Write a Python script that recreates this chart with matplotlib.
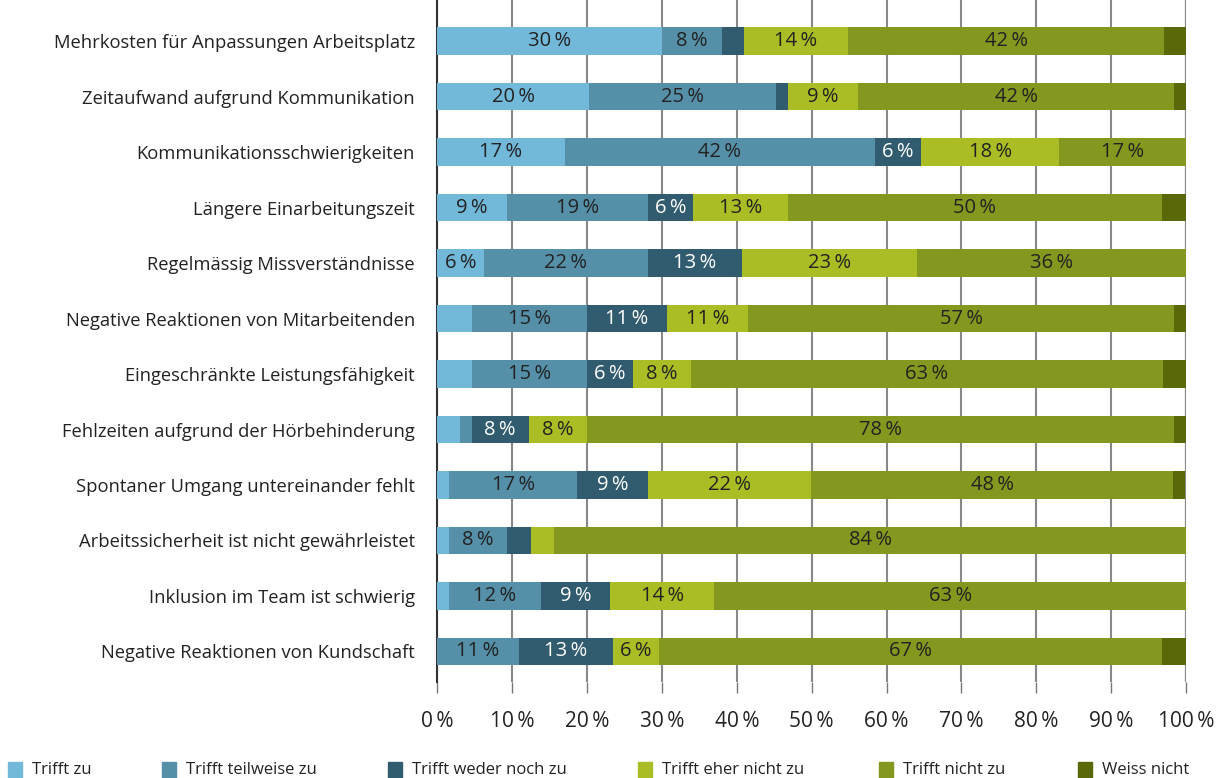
import numpy as np
import matplotlib.pyplot as plt
from matplotlib.patches import Rectangle

plt.rcParams['font.family'] = ['Open Sans', 'DejaVu Sans']

# categories (top to bottom)
categories = [
    'Mehrkosten für Anpassungen Arbeitsplatz',
    'Zeitaufwand aufgrund Kommunikation',
    'Kommunikationsschwierigkeiten',
    'Längere Einarbeitungszeit',
    'Regelmässig Missverständnisse',
    'Negative Reaktionen von Mitarbeitenden',
    'Eingeschränkte Leistungsfähigkeit',
    'Fehlzeiten aufgrund der Hörbehinderung',
    'Spontaner Umgang untereinander fehlt',
    'Arbeitssicherheit ist nicht gewährleistet',
    'Inklusion im Team ist schwierig',
    'Negative Reaktionen von Kundschaft',
]

series_names = ['Trifft zu', 'Trifft teilweise zu', 'Trifft weder noch zu',
                'Trifft eher nicht zu', 'Trifft nicht zu', 'Weiss nicht']

trifft_zu = [30, 20.3, 17, 9.3, 6.2, 4.6, 4.6, 3.0, 1.6, 1.6, 1.6, 0]
teilweise = [8, 24.9, 41.5, 18.8, 21.9, 15.4, 15.4, 1.6, 17.1, 7.7, 12.2, 10.9]
weder_noch = [2.9, 1.6, 6.1, 6.1, 12.6, 10.7, 6.1, 7.6, 9.4, 3.2, 9.3, 12.6]
eher_nicht = [14, 9.4, 18.5, 12.6, 23.4, 10.8, 7.8, 7.8, 21.8, 3.1, 13.9, 6.1]
nicht_zu = [42.2, 42.2, 16.9, 50, 35.9, 56.9, 63, 78.4, 48.4, 84.4, 63, 67.2]
weiss_nicht = [3.2, 1.6, 0, 3.2, 0, 1.6, 3.1, 1.6, 1.6, 0, 0, 3.2]

colors = ['#72b8d9', '#5590a8', '#315b6e', '#aabd25', '#84971f', '#5a6808']
text_colors = ['#222222', '#222222', 'white', '#222222', '#222222', 'white']

xticks = [0, 10, 20, 30, 40, 50, 60, 70, 80, 90, 100]

data = np.array([trifft_zu, teilweise, weder_noch, eher_nicht, nicht_zu, weiss_nicht])
y = np.arange(len(categories))

fig = plt.figure(figsize=(12.3, 7.78), dpi=100)
ax = fig.add_axes([437.3 / 1230, 1 - 682 / 778, (1186 - 437.3) / 1230, 682 / 778])

left = np.zeros(len(categories))
for k, name in enumerate(series_names):
    vals = data[k]
    ax.barh(y, vals, left=left, height=0.5, color=colors[k], zorder=3, label=name)
    for i, v in enumerate(vals):
        if v >= 5.5:
            ax.text(left[i] + v / 2, y[i], '%d\u2009%%' % round(v),
                    ha='center', va='center', fontsize=14.5,
                    color=text_colors[k], zorder=4)
    left = left + vals

ax.set_xlim(0, 100)
ax.set_ylim(11.55, -0.74)
ax.set_yticks(y)
ax.set_yticklabels(categories, fontsize=13.2, color='#222222')
ax.set_xticks(xticks)
ax.set_xticklabels(['%d\u2009%%' % t for t in xticks], fontsize=15, color='#222222')
ax.tick_params(axis='y', length=0, pad=16)
ax.tick_params(axis='x', length=8, width=1, color='#777777', pad=13)

ax.grid(axis='x', color='#888888', linewidth=1.5, zorder=0)
for s in ['top', 'bottom', 'right']:
    ax.spines[s].set_visible(False)
ax.spines['left'].set_color('#333333')
ax.spines['left'].set_linewidth(1.5)
ax.axvline(100, color='#555555', linewidth=1.5, zorder=1)

# legend along the bottom edge
leg_x = [8, 162, 388, 638, 879, 1078]
for k, name in enumerate(series_names):
    fig.add_artist(Rectangle((leg_x[k] / 1230, 0), 14 / 1230, 16 / 778,
                             transform=fig.transFigure, color=colors[k]))
    fig.text((leg_x[k] + 24) / 1230, 1 - 762 / 778, name, ha='left', va='top',
             fontsize=12, color='#222222')

plt.savefig('out.png', dpi=100)
